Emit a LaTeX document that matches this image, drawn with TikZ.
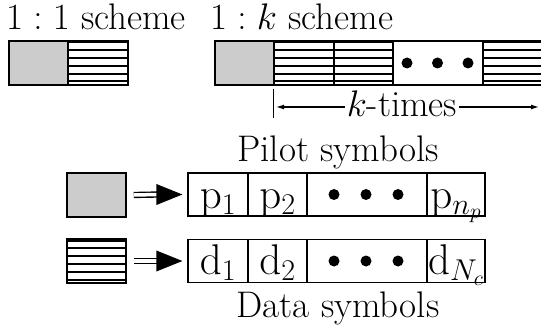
\RequirePackage{fix-cm}
\documentclass[tikz,border=0pt]{standalone}
\usetikzlibrary{arrows.meta}
\newcommand\ttlfont{\fontsize{37}{44}\selectfont}
\newcommand\celfont{\fontsize{43}{50}\selectfont}
\begin{document}
\begin{tikzpicture}[x=1pt,y=-1pt,
  bx/.style={draw, line width=1.5pt, inner sep=0pt, minimum height=44pt},
  gbox/.style={bx, fill=gray!40},
  hbox/.style={bx, path picture={\foreach \yy in {1.5,9.3,17.1,24.9,32.7,40.5}
      \draw[line width=2pt] ([yshift=-\yy pt]path picture bounding box.north west) -- ([yshift=-\yy pt]path picture bounding box.north east);}},
  cell/.style={draw, line width=1.2pt, inner sep=0pt, minimum height=43pt, text height=30pt, text depth=3pt, font=\celfont},
  ttl/.style={font=\ttlfont, inner sep=0pt},
  dbl/.style={double, double distance=3.5pt, line width=1.4pt},
  karrow/.style={-{Latex[length=8pt,width=5pt]}, line width=1.2pt}]
\useasboundingbox (0,0) rectangle (541,326);
\clip (0,0) rectangle (541,326);
% top row
\node[gbox, minimum width=59pt] (g1) at (38.5,63) {};
\node[hbox, minimum width=60pt] (h1) at (98,63) {};
\node[gbox, minimum width=59pt] (g2) at (244.5,63) {};
\node[hbox, minimum width=60pt] (h2a) at (304,63) {};
\node[hbox, minimum width=59pt] (h2b) at (363.5,63) {};
\node[bx, minimum width=90pt] (dt) at (438,63) {};
\node[hbox, minimum width=70pt] (h2c) at (518,63) {};
\foreach \dx in {-31,-0.5,30} \fill ([xshift=\dx pt]dt.center) circle (5.5pt);
% titles
\node[ttl, anchor=base west] (t1) at (6,30) {$1:1$ scheme};
\node[ttl, anchor=base west] (t2) at (210,30) {$1:k$ scheme};
% k-times
\node[ttl, anchor=base, inner xsep=2pt] (kt) at (402,117) {$k$-times};
\coordinate (kl) at (276,107);
\coordinate (kr) at (539,107);
\draw[karrow] (kt.west |- kl) -- (kl);
\draw[karrow] (kt.east |- kr) -- (kr);
\draw[line width=1.2pt] (h2a.south west) ++(0,3) -- ++(0,29);
% legend
\node[gbox, minimum width=59pt] (gp) at (96.5,195) {};
\node[hbox, minimum width=59pt] (hd) at (96.5,261) {};
% pilot row
\node[ttl, anchor=base] (ps) at (338,161) {Pilot symbols};
\node[cell, minimum width=60pt] (p1) at (218,194.5) {$\mathrm{p}_1$};
\node[cell, minimum width=59pt] (p2) at (277.5,194.5) {$\mathrm{p}_2$};
\node[cell, minimum width=120pt] (pd) at (367,194.5) {};
\node[cell, minimum width=58pt] (pn) at (456,194.5) {$\mathrm{p}_{n_p}$};
\foreach \dx in {-33,-1,31} \fill ([xshift=\dx pt]pd.center) circle (5.5pt);
% data row
\node[cell, minimum width=60pt] (d1) at (218,261) {$\mathrm{d}_1$};
\node[cell, minimum width=59pt] (d2) at (277.5,261) {$\mathrm{d}_2$};
\node[cell, minimum width=120pt] (dd) at (367,261) {};
\node[cell, minimum width=58pt] (dn) at (456,261) {$\mathrm{d}_{N_c}$};
\foreach \dx in {-33,-1,31} \fill ([xshift=\dx pt]dd.center) circle (5.5pt);
\node[ttl, anchor=base] (ds) at (338,317) {Data symbols};
% arrows
\draw[dbl] ([xshift=7pt]gp.east) -- ([xshift=-29pt]p1.west);
\fill ([xshift=-5pt]p1.west) -- ++(-26,-10.5) -- ++(0,21) -- cycle;
\draw[dbl] ([xshift=7pt]hd.east) -- ([xshift=-29pt]d1.west);
\fill ([xshift=-5pt]d1.west) -- ++(-26,-10.5) -- ++(0,21) -- cycle;
\end{tikzpicture}
\end{document}
